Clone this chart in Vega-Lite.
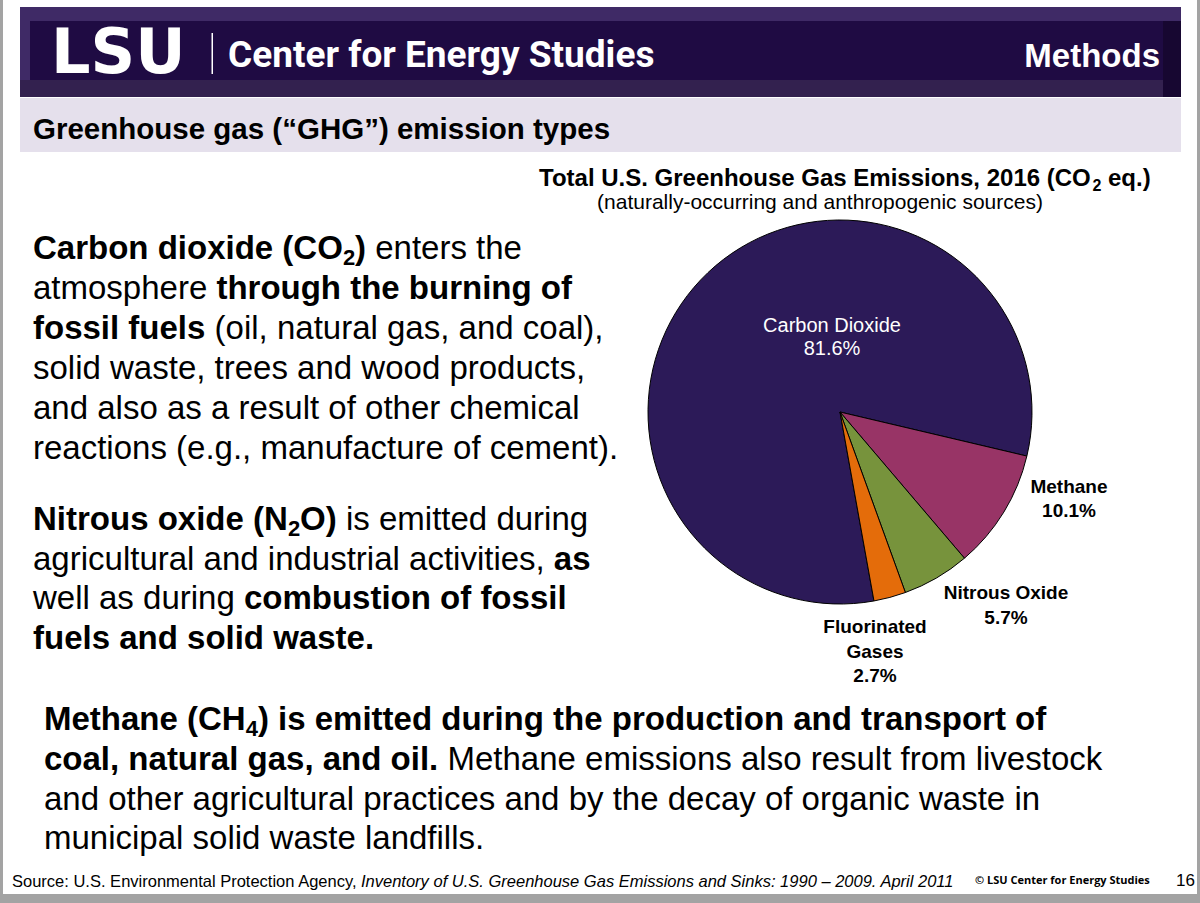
{
  "$schema": "https://vega.github.io/schema/vega-lite/v6.json",
  "width": 1200,
  "height": 903,
  "autosize": {"type": "fit", "contains": "padding"},
  "padding": 0,
  "background": "#ffffff",
  "config": {
    "view": {"stroke": null},
    "text": {"font": "Liberation Sans", "align": "left", "baseline": "alphabetic", "color": "#000000", "fontSize": 33}
  },
  "datasets": {
    "one": [{}],
    "ghg": [
      {"gas": "Carbon Dioxide", "share": 81.6, "rank": 1},
      {"gas": "Methane", "share": 10.1, "rank": 2},
      {"gas": "Nitrous Oxide", "share": 5.7, "rank": 3},
      {"gas": "Fluorinated Gases", "share": 2.7, "rank": 4}
    ]
  },
  "layer": [
    {"data": {"name": "one"}, "mark": {"type": "rect", "x": 0, "y": 0, "x2": 1200, "y2": 903, "fill": "#a3a3a3"}},
    {"data": {"name": "one"}, "mark": {"type": "rect", "x": 3, "y": 0, "x2": 1197, "y2": 894, "fill": "#ffffff"}},
    {"data": {"name": "one"}, "mark": {"type": "rect", "x": 20, "y": 7, "x2": 1181, "y2": 97, "fill": "#3f2a66"}},
    {"data": {"name": "one"}, "mark": {"type": "rect", "x": 20, "y": 80, "x2": 1181, "y2": 97, "fill": "#33214f"}},
    {"data": {"name": "one"}, "mark": {"type": "rect", "x": 1163, "y": 21, "x2": 1181, "y2": 97, "fill": "#170731"}},
    {"data": {"name": "one"}, "mark": {"type": "rect", "x": 30, "y": 21, "x2": 1163, "y2": 80, "fill": "#1f0b43"}},
    {"data": {"name": "one"}, "mark": {"type": "rect", "x": 20, "y": 98, "x2": 1181, "y2": 152, "fill": "#e5e0ec"}},

    {"data": {"name": "one"}, "mark": {"type": "text", "text": "LSU", "x": 51, "y": 73, "font": "DejaVu Sans", "fontWeight": "bold", "fontSize": 62, "color": "#ffffff"}},
    {"data": {"name": "one"}, "mark": {"type": "rect", "x": 211.5, "x2": 213, "y": 33, "y2": 74, "fill": "#ffffff"}},
    {"data": {"name": "one"}, "mark": {"type": "text", "text": "Center for Energy Studies", "x": 228, "y": 67, "font": "Roboto", "fontWeight": "bold", "fontSize": 37, "color": "#ffffff"}},
    {"data": {"name": "one"}, "mark": {"type": "text", "text": "Methods", "x": 1160, "y": 67, "align": "right", "fontWeight": "bold", "fontSize": 33, "color": "#ffffff"}},
    {"data": {"name": "one"}, "mark": {"type": "text", "text": "Greenhouse gas (“GHG”) emission types", "x": 33, "y": 139, "fontWeight": "bold", "fontSize": 29.5}},

    {"data": {"name": "one"}, "mark": {"type": "text", "text": "Total U.S. Greenhouse Gas Emissions, 2016 (CO", "x": 539, "y": 186, "fontWeight": "bold", "fontSize": 24}},
    {"data": {"name": "one"}, "mark": {"type": "text", "text": "2", "x": 1092.5, "y": 191, "fontWeight": "bold", "fontSize": 16}},
    {"data": {"name": "one"}, "mark": {"type": "text", "text": "eq.)", "x": 1108, "y": 186, "fontWeight": "bold", "fontSize": 24}},
    {"data": {"name": "one"}, "mark": {"type": "text", "text": "(naturally-occurring and anthropogenic sources)", "x": 820, "y": 209, "align": "center", "fontSize": 21}},

    {"data": {"name": "ghg"}, "mark": {"type": "arc", "x": 840, "y": 412, "outerRadius": 192, "stroke": "#000000", "strokeWidth": 1},
     "encoding": {
       "theta": {"field": "share", "type": "quantitative", "stack": true, "scale": {"range": [2.9636, 9.2468]}},
       "color": {"field": "gas", "type": "nominal", "legend": null,
                 "scale": {"domain": ["Carbon Dioxide", "Methane", "Nitrous Oxide", "Fluorinated Gases"], "range": ["#2c1a58", "#983466", "#77933c", "#e46c0a"]}},
       "order": {"field": "rank", "type": "ordinal"}
     }},

    {"data": {"name": "one"}, "mark": {"type": "text", "text": ["Carbon Dioxide", "81.6%"], "x": 832, "y": 332, "align": "center", "fontSize": 20, "lineHeight": 23, "color": "#ffffff"}},
    {"data": {"name": "one"}, "mark": {"type": "text", "text": ["Methane", "10.1%"], "x": 1069, "y": 493, "align": "center", "fontWeight": "bold", "fontSize": 19, "lineHeight": 24}},
    {"data": {"name": "one"}, "mark": {"type": "text", "text": ["Nitrous Oxide", "5.7%"], "x": 1006, "y": 599, "align": "center", "fontWeight": "bold", "fontSize": 19, "lineHeight": 25}},
    {"data": {"name": "one"}, "mark": {"type": "text", "text": ["Fluorinated", "Gases", "2.7%"], "x": 875, "y": 633, "align": "center", "fontWeight": "bold", "fontSize": 19, "lineHeight": 24.5}},

    {"data": {"name": "one"}, "mark": {"type": "text", "text": "Carbon dioxide (CO", "x": 33, "y": 259, "fontWeight": "bold"}},
    {"data": {"name": "one"}, "mark": {"type": "text", "text": "2", "x": 343, "y": 265, "fontWeight": "bold", "fontSize": 22}},
    {"data": {"name": "one"}, "mark": {"type": "text", "text": ")", "x": 355, "y": 259, "fontWeight": "bold"}},
    {"data": {"name": "one"}, "mark": {"type": "text", "text": "enters the", "x": 375.2, "y": 259}},
    {"data": {"name": "one"}, "mark": {"type": "text", "text": "atmosphere", "x": 33, "y": 299}},
    {"data": {"name": "one"}, "mark": {"type": "text", "text": "through the burning of", "x": 216.4, "y": 299, "fontWeight": "bold"}},
    {"data": {"name": "one"}, "mark": {"type": "text", "text": "fossil fuels", "x": 33, "y": 339, "fontWeight": "bold"}},
    {"data": {"name": "one"}, "mark": {"type": "text", "text": "(oil, natural gas, and coal),", "x": 214.6, "y": 339}},
    {"data": {"name": "one"}, "mark": {"type": "text", "text": "solid waste, trees and wood products,", "x": 33, "y": 379}},
    {"data": {"name": "one"}, "mark": {"type": "text", "text": "and also as a result of other chemical", "x": 33, "y": 419}},
    {"data": {"name": "one"}, "mark": {"type": "text", "text": "reactions (e.g., manufacture of cement).", "x": 33, "y": 459}},

    {"data": {"name": "one"}, "mark": {"type": "text", "text": "Nitrous oxide (N", "x": 33, "y": 530, "fontWeight": "bold"}},
    {"data": {"name": "one"}, "mark": {"type": "text", "text": "2", "x": 288, "y": 536, "fontWeight": "bold", "fontSize": 22}},
    {"data": {"name": "one"}, "mark": {"type": "text", "text": "O)", "x": 300.1, "y": 530, "fontWeight": "bold"}},
    {"data": {"name": "one"}, "mark": {"type": "text", "text": "is emitted during", "x": 346, "y": 530}},
    {"data": {"name": "one"}, "mark": {"type": "text", "text": "agricultural and industrial activities,", "x": 33, "y": 570}},
    {"data": {"name": "one"}, "mark": {"type": "text", "text": "as", "x": 553.8, "y": 570, "fontWeight": "bold"}},
    {"data": {"name": "one"}, "mark": {"type": "text", "text": "well as during", "x": 33, "y": 609}},
    {"data": {"name": "one"}, "mark": {"type": "text", "text": "combustion of fossil", "x": 243.9, "y": 609, "fontWeight": "bold"}},
    {"data": {"name": "one"}, "mark": {"type": "text", "text": "fuels and solid waste.", "x": 33, "y": 649, "fontWeight": "bold"}},

    {"data": {"name": "one"}, "mark": {"type": "text", "text": "Methane (CH", "x": 44, "y": 730, "fontWeight": "bold"}},
    {"data": {"name": "one"}, "mark": {"type": "text", "text": "4", "x": 245.7, "y": 736, "fontWeight": "bold", "fontSize": 22}},
    {"data": {"name": "one"}, "mark": {"type": "text", "text": ") is emitted during the production and transport of", "x": 257.9, "y": 730, "fontWeight": "bold"}},
    {"data": {"name": "one"}, "mark": {"type": "text", "text": "coal, natural gas, and oil.", "x": 44, "y": 770, "fontWeight": "bold"}},
    {"data": {"name": "one"}, "mark": {"type": "text", "text": "Methane emissions also result from livestock", "x": 447.5, "y": 770}},
    {"data": {"name": "one"}, "mark": {"type": "text", "text": "and other agricultural practices and by the decay of organic waste in", "x": 44, "y": 810}},
    {"data": {"name": "one"}, "mark": {"type": "text", "text": "municipal solid waste landfills.", "x": 44, "y": 849}},

    {"data": {"name": "one"}, "mark": {"type": "text", "text": "Source:  U.S. Environmental Protection Agency,", "x": 12, "y": 887, "fontSize": 16.5}},
    {"data": {"name": "one"}, "mark": {"type": "text", "text": "Inventory of U.S. Greenhouse Gas Emissions and Sinks: 1990 – 2009. April 2011", "x": 361, "y": 887, "fontSize": 16.5, "fontStyle": "italic"}},
    {"data": {"name": "one"}, "mark": {"type": "text", "text": "© LSU Center for Energy Studies", "x": 975, "y": 884, "fontSize": 11, "font": "Open Sans", "fontWeight": "bold"}},
    {"data": {"name": "one"}, "mark": {"type": "text", "text": "16", "x": 1176, "y": 886, "fontSize": 17}}
  ]
}
